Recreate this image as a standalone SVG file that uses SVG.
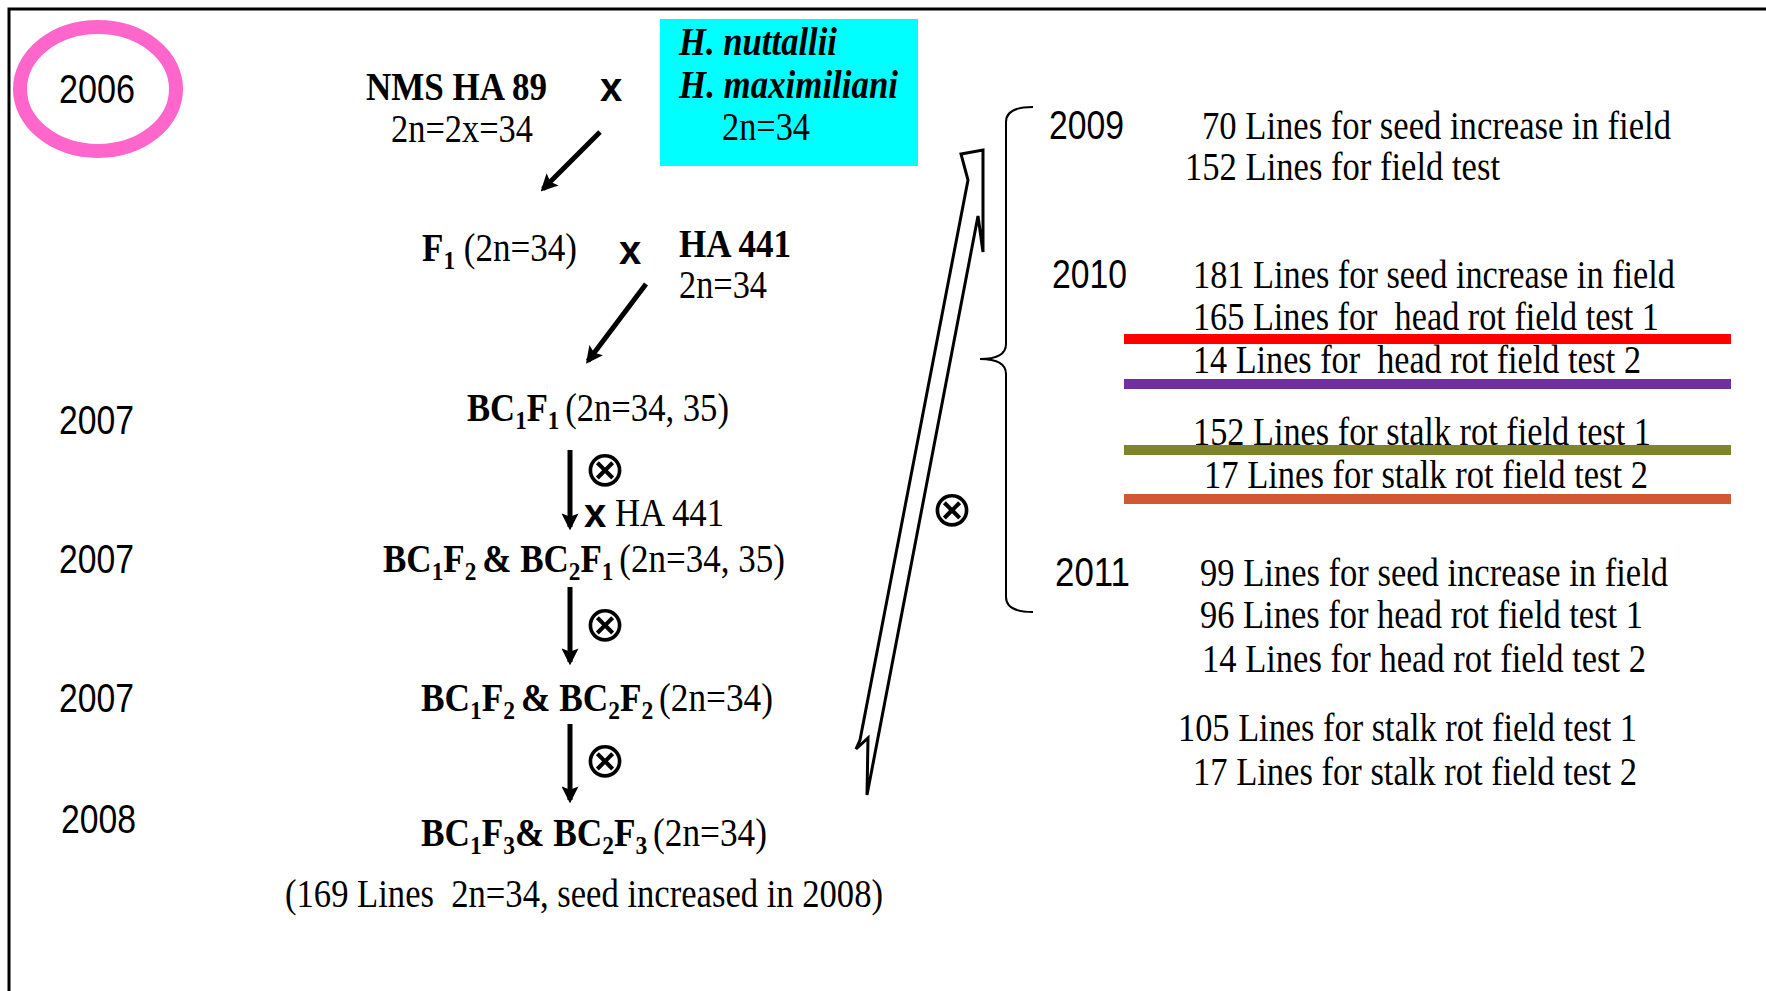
<svg xmlns="http://www.w3.org/2000/svg" width="1766" height="991" viewBox="0 0 1766 991">
<style>
.t{font-family:"Liberation Serif","Times New Roman",serif;font-size:39px;fill:#000}
.a{font-family:"Liberation Sans",Arial,sans-serif;font-size:40px;fill:#000}
.b{font-weight:bold}
.x{font-family:"Liberation Sans",Arial,sans-serif;font-size:40px;font-weight:bold;text-anchor:middle}
.s{font-size:26px}
.o{font-family:"DejaVu Sans",sans-serif;font-size:50px;text-anchor:middle;dominant-baseline:central}
.arr{stroke:#000;stroke-width:5;fill:none;marker-end:url(#ah)}
.bar{stroke-width:10}
</style>
<defs>
<marker id="ah" viewBox="0 0 10 10" refX="8" refY="5" markerWidth="3.4" markerHeight="3.4" orient="auto" markerUnits="strokeWidth">
<path d="M0,0 L10,5 L0,10 L2,5 z" fill="#000"/>
</marker>
</defs>
<rect width="1766" height="991" fill="#fff"/>
<path d="M9 991 V9 H1766" fill="none" stroke="#000" stroke-width="3"/>

<g id="year2006">
<ellipse cx="98" cy="89" rx="78" ry="62" fill="none" stroke="#FF66CC" stroke-width="14"/>
<text class="a" x="59" y="103" textLength="76" lengthAdjust="spacingAndGlyphs">2006</text>
</g>

<g id="nms">
<text class="t b" x="366" y="100" textLength="181" lengthAdjust="spacingAndGlyphs">NMS HA 89</text>
<text class="t" x="391" y="142" textLength="142" lengthAdjust="spacingAndGlyphs">2n=2x=34</text>
</g>
<text class="x" x="611" y="101">x</text>

<g id="wild">
<rect x="660" y="19" width="258" height="147" fill="#00FFFF"/>
<text class="t b" font-style="italic" x="679" y="55" textLength="158" lengthAdjust="spacingAndGlyphs">H. nuttallii</text>
<text class="t b" font-style="italic" x="679" y="98" textLength="219" lengthAdjust="spacingAndGlyphs">H. maximiliani</text>
<text class="t" x="722" y="140" textLength="88" lengthAdjust="spacingAndGlyphs">2n=34</text>
</g>

<g id="f1">
<text class="t" x="422" y="261" textLength="155" lengthAdjust="spacingAndGlyphs"><tspan class="b">F</tspan><tspan class="b s" dy="8">1</tspan><tspan dy="-8"> (2n=34)</tspan></text>
</g>
<text class="x" x="630" y="264">x</text>

<g id="ha441">
<text class="t b" x="679" y="257" textLength="112" lengthAdjust="spacingAndGlyphs">HA 441</text>
<text class="t" x="679" y="298" textLength="88" lengthAdjust="spacingAndGlyphs">2n=34</text>
</g>

<g id="bc1f1">
<text class="a" x="59" y="434" textLength="75" lengthAdjust="spacingAndGlyphs">2007</text>
<text class="t" x="467" y="421" textLength="262" lengthAdjust="spacingAndGlyphs"><tspan class="b">BC</tspan><tspan class="b s" dy="8">1</tspan><tspan class="b" dy="-8">F</tspan><tspan class="b s" dy="8">1 </tspan><tspan dy="-8">(2n=34, 35)</tspan></text>
</g>

<g id="bc1f2a">
<text class="a" x="59" y="573" textLength="75" lengthAdjust="spacingAndGlyphs">2007</text>
<text class="t" x="383" y="572" textLength="402" lengthAdjust="spacingAndGlyphs"><tspan class="b">BC</tspan><tspan class="b s" dy="8">1</tspan><tspan class="b" dy="-8">F</tspan><tspan class="b s" dy="8">2 </tspan><tspan class="b" dy="-8">&amp; BC</tspan><tspan class="b s" dy="8">2</tspan><tspan class="b" dy="-8">F</tspan><tspan class="b s" dy="8">1 </tspan><tspan dy="-8">(2n=34, 35)</tspan></text>
</g>

<g id="bc1f2b">
<text class="a" x="59" y="712" textLength="75" lengthAdjust="spacingAndGlyphs">2007</text>
<text class="t" x="421" y="711" textLength="352" lengthAdjust="spacingAndGlyphs"><tspan class="b">BC</tspan><tspan class="b s" dy="8">1</tspan><tspan class="b" dy="-8">F</tspan><tspan class="b s" dy="8">2 </tspan><tspan class="b" dy="-8">&amp; BC</tspan><tspan class="b s" dy="8">2</tspan><tspan class="b" dy="-8">F</tspan><tspan class="b s" dy="8">2 </tspan><tspan dy="-8">(2n=34)</tspan></text>
</g>

<g id="bc1f3">
<text class="a" x="61" y="833" textLength="75" lengthAdjust="spacingAndGlyphs">2008</text>
<text class="t" x="421" y="846" textLength="346" lengthAdjust="spacingAndGlyphs"><tspan class="b">BC</tspan><tspan class="b s" dy="8">1</tspan><tspan class="b" dy="-8">F</tspan><tspan class="b s" dy="8">3</tspan><tspan class="b" dy="-8">&amp; BC</tspan><tspan class="b s" dy="8">2</tspan><tspan class="b" dy="-8">F</tspan><tspan class="b s" dy="8">3 </tspan><tspan dy="-8">(2n=34)</tspan></text>
<text class="t" x="285" y="907" textLength="598" lengthAdjust="spacingAndGlyphs">(169 Lines&#160; 2n=34, seed increased in 2008)</text>
</g>

<g id="connectors">
<line class="arr" x1="600" y1="132" x2="543" y2="189"/>
<line class="arr" x1="646" y1="284" x2="588" y2="361"/>
<line class="arr" x1="570" y1="450" x2="570" y2="527"/>
<line class="arr" x1="570" y1="587" x2="570" y2="662"/>
<line class="arr" x1="570" y1="724" x2="570" y2="800"/>
<text class="o" x="605" y="469">⊗</text>
<text class="x" x="595" y="527">x</text>
<text class="t" x="615" y="526" textLength="109" lengthAdjust="spacingAndGlyphs">HA 441</text>
<text class="o" x="605" y="624">⊗</text>
<text class="o" x="605" y="760">⊗</text>
<polygon points="961,154 983,150 983,252 978,216 867,795 868,738 856,749 860,740 968,180" fill="#fff" stroke="#000" stroke-width="3" stroke-linejoin="miter"/>
<text class="o" x="952" y="509">⊗</text>
<path d="M1033 107 Q1006 107 1006 122 V344 Q1006 359 980 359 Q1006 359 1006 374 V597 Q1006 612 1033 612" fill="none" stroke="#000" stroke-width="2"/>
</g>

<g id="y2009">
<text class="a" x="1049" y="139" textLength="75" lengthAdjust="spacingAndGlyphs">2009</text>
<text class="t" x="1202" y="139" textLength="469" lengthAdjust="spacingAndGlyphs">70 Lines for seed increase in field</text>
<text class="t" x="1185" y="180" textLength="315" lengthAdjust="spacingAndGlyphs">152 Lines for field test</text>
</g>

<g id="y2010">
<text class="a" x="1052" y="288" textLength="75" lengthAdjust="spacingAndGlyphs">2010</text>
<text class="t" x="1193" y="288" textLength="482" lengthAdjust="spacingAndGlyphs">181 Lines for seed increase in field</text>
<text class="t" x="1193" y="330" textLength="466" lengthAdjust="spacingAndGlyphs">165 Lines for&#160; head rot field test 1</text>
<line class="bar" x1="1124" y1="339" x2="1731" y2="339" stroke="#FF0000"/>
<text class="t" x="1193" y="373" textLength="448" lengthAdjust="spacingAndGlyphs">14 Lines for&#160; head rot field test 2</text>
<line class="bar" x1="1124" y1="384" x2="1731" y2="384" stroke="#7030A0"/>
<text class="t" x="1193" y="445" textLength="458" lengthAdjust="spacingAndGlyphs">152 Lines for stalk rot field test 1</text>
<line class="bar" x1="1124" y1="450" x2="1731" y2="450" stroke="#7F8428"/>
<text class="t" x="1204" y="488" textLength="444" lengthAdjust="spacingAndGlyphs">17 Lines for stalk rot field test 2</text>
<line class="bar" x1="1124" y1="499" x2="1731" y2="499" stroke="#D05834"/>
</g>

<g id="y2011">
<text class="a" x="1055" y="586" textLength="75" lengthAdjust="spacingAndGlyphs">2011</text>
<text class="t" x="1200" y="586" textLength="468" lengthAdjust="spacingAndGlyphs">99 Lines for seed increase in field</text>
<text class="t" x="1200" y="628" textLength="443" lengthAdjust="spacingAndGlyphs">96 Lines for head rot field test 1</text>
<text class="t" x="1202" y="672" textLength="444" lengthAdjust="spacingAndGlyphs">14 Lines for head rot field test 2</text>
<text class="t" x="1178" y="741" textLength="459" lengthAdjust="spacingAndGlyphs">105 Lines for stalk rot field test 1</text>
<text class="t" x="1193" y="785" textLength="444" lengthAdjust="spacingAndGlyphs">17 Lines for stalk rot field test 2</text>
</g>
</svg>
